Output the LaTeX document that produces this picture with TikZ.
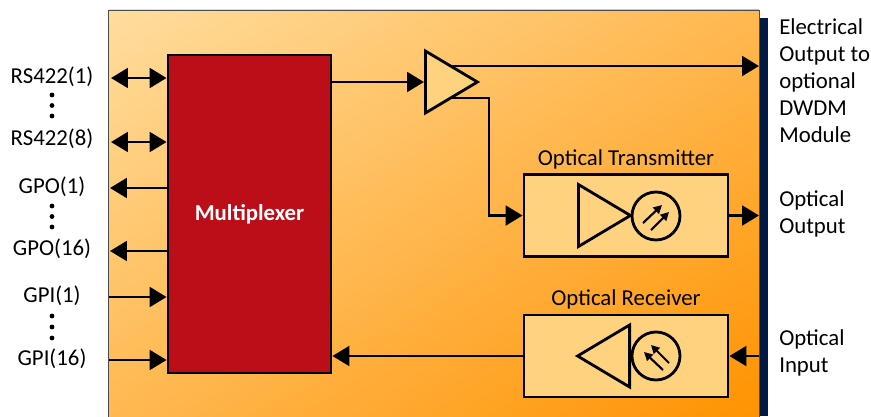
\documentclass[tikz,border=0pt]{standalone}
\usepackage{fontspec}
\setmainfont{Carlito}
\usepackage{xcolor}
\usepackage{tikz}
\usetikzlibrary{arrows.meta, shapes.geometric, shadings, calc}

\definecolor{panelA}{HTML}{FFDD9E}
\definecolor{panelB}{HTML}{FFB850}
\definecolor{panelC}{HTML}{FF9200}
\definecolor{boxfill}{HTML}{FFD280}
\definecolor{muxred}{HTML}{BC0E18}
\definecolor{navybar}{HTML}{001A45}

\begin{document}
\begin{tikzpicture}[
            x=0.025cm, y=-0.025cm,
            panel/.style={rectangle, draw=black!70, line width=0.6pt, inner sep=0pt, minimum width=16.25cm, minimum height=10.3cm, upper left=panelA, upper right=panelB, lower left=panelB, lower right=panelC},
            block/.style={rectangle, draw, line width=2pt, inner sep=0pt},
            mux/.style={block, fill=muxred, minimum width=4.075cm, minimum height=7.95cm, text=white, font=\fontsize{16.2}{18}\selectfont\bfseries},
            unit/.style={block, fill=boxfill, minimum width=5.1cm, minimum height=2.05cm},
            amp/.style={isosceles triangle, isosceles triangle stretches, draw, line width=2pt, fill=boxfill, inner sep=0pt, minimum width=1.55cm, minimum height=1.3cm, anchor=lower side},
            diode/.style={circle, draw, line width=2pt, inner sep=0pt, minimum size=1.2cm},
            lbl/.style={font=\fontsize{16.2}{19.2}\selectfont, inner sep=0pt},
            rlbl/.style={lbl, align=left, anchor=west},
            dot/.style={circle, fill=black, inner sep=0pt, minimum size=3.4pt},
            link/.style={line width=2pt, -{Triangle[length=12pt, width=14pt]}},
            both/.style={line width=2pt, {Triangle[length=12pt, width=14pt]}-{Triangle[length=12pt, width=14pt]}},
            ray/.style={line width=1.5pt, -{Triangle[length=6pt, width=6pt]}}
        ]
        \useasboundingbox (0,0) rectangle (871,416);

        % Panel and bar
        \fill[navybar] (759,18) rectangle (768,416);
        \node[panel] (panel) at (434,216) {};

        % Blocks
        \node[mux] (mux) at (249.5,214) {Multiplexer};
        \node[unit] (tx) at (626,215.5) {};
        \node[unit] (rx) at (626,356) {};
        \node[lbl] (txlabel) at (626,159) {Optical Transmitter};
        \node[lbl] (rxlabel) at (626,299) {Optical Receiver};

        % Amplifiers and photodiodes
        \node[amp] (split) at (424,82) {};
        \node[amp] (txamp) at (577,215.5) {};
        \node[amp, shape border rotate=180] (rxamp) at (631,356) {};
        \node[diode] (txdiode) at (656,216) {};
        \node[diode] (rxdiode) at (656,356) {};

        % Rays
        \draw[ray] (643,223) -- (662,205);
        \draw[ray] (651,230) -- (669,212);
        \draw[ray] (663,370) -- (644,352);
        \draw[ray] (669,363) -- (651,345);

        % Free ends
        \coordinate (splittop) at (449,66);
        \coordinate (splitlow) at (449,98);
        \coordinate (rsa) at (111,78);
        \coordinate (rsb) at (111,142);
        \coordinate (gpoa) at (110,188);
        \coordinate (gpob) at (110,251);
        \coordinate (gpia) at (109,297);
        \coordinate (gpib) at (109,360);
        \coordinate (dwdm) at (759,66);
        \coordinate (optout) at (759,215.5);
        \coordinate (optin) at (759,356);

        % Left side connectors
        \draw[both] (rsa) -- (rsa -| mux.west);
        \draw[both] (rsb) -- (rsb -| mux.west);
        \draw[link] (gpoa -| mux.west) -- (gpoa);
        \draw[link] (gpob -| mux.west) -- (gpob);
        \draw[link] (gpia) -- (gpia -| mux.west);
        \draw[link] (gpib) -- (gpib -| mux.west);

        % Signal path
        \draw[link] (split.lower side -| mux.east) -- (split.lower side);
        \draw[link] (splittop) -- (dwdm);
        \draw[link] (splitlow) -| (489,215.5) -- (tx.west);
        \draw[link] (tx.east) -- (optout);
        \draw[link] (optin) -- (rx.east);
        \draw[link] (rx.west) -- (rx.west -| mux.east);

        % Left labels
        \node[lbl] (rsone) at (52,77) {RS422(1)};
        \node[lbl] (rseight) at (52,139) {RS422(8)};
        \node[lbl] (gpoone) at (52,187) {GPO(1)};
        \node[lbl] (gposixteen) at (52,249) {GPO(16)};
        \node[lbl] (gpione) at (52,296) {GPI(1)};
        \node[lbl] (gpisixteen) at (52,359) {GPI(16)};
        \foreach \y in {95,105.5,116,206,216.5,227,316,327,338} {
            \node[dot] (dot\y) at (52,\y) {};
        }

        % Right labels
        \node[rlbl] (elout) at (779,81) {Electrical\\Output to\\optional\\DWDM\\Module};
        \node[rlbl] (opout) at (779,213.5) {Optical\\Output};
        \node[rlbl] (opin) at (779,352.5) {Optical\\Input};
    \end{tikzpicture}
\end{document}
